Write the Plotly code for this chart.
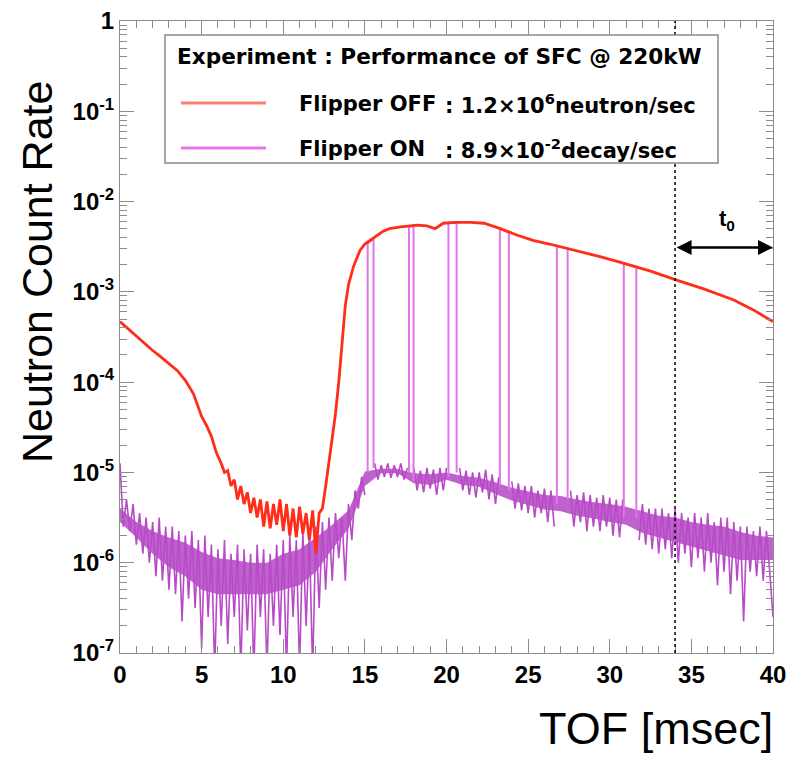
import plotly.graph_objects as go

# ---------------- data ----------------
# Flipper OFF : TOF [msec] and log10(neutron count rate)
off_tof = [0.0, 0.5, 1.0, 1.5, 2.0, 2.5, 3.0, 3.5, 4.0, 4.5, 5.0, 5.3, 5.6, 5.9,
           6.2, 6.4, 6.6, 6.8, 7.0, 7.2, 7.4, 7.6, 7.8, 8.0, 8.2, 8.4, 8.6, 8.8,
           9.0, 9.2, 9.4, 9.6, 9.8, 10.0, 10.2, 10.4, 10.6, 10.8, 11.0, 11.2,
           11.4, 11.6, 11.8, 12.0, 12.2, 12.4, 12.6, 12.8, 13.0, 13.2, 13.4,
           13.6, 13.8, 14.0, 14.3, 14.7, 15.0, 15.4, 16.1, 16.5, 17.2, 18.2,
           18.8, 19.3, 19.8, 20.6, 21.5, 22.3, 23.3, 24.3, 25.3, 26.3, 27.4,
           28.4, 29.4, 30.4, 31.4, 32.5, 34.1, 35.8, 37.6, 38.8, 40.0]
off_log = [-3.33, -3.41, -3.50, -3.58, -3.65, -3.72, -3.79, -3.87, -3.98, -4.13,
           -4.38, -4.48, -4.60, -4.78, -4.90, -5.00, -4.98, -5.15, -5.08, -5.30,
           -5.15, -5.35, -5.22, -5.45, -5.28, -5.50, -5.30, -5.60, -5.32, -5.62,
           -5.35, -5.58, -5.30, -5.65, -5.35, -5.70, -5.40, -5.72, -5.38, -5.68,
           -5.45, -5.75, -5.42, -5.90, -5.45, -5.40, -5.15, -4.90, -4.65, -4.35,
           -4.00, -3.55, -3.15, -2.92, -2.72, -2.54, -2.47, -2.42, -2.33, -2.30,
           -2.28, -2.26, -2.27, -2.30, -2.24, -2.23, -2.23, -2.24, -2.30, -2.37,
           -2.43, -2.47, -2.52, -2.56, -2.61, -2.66, -2.71, -2.77, -2.87, -2.97,
           -3.09, -3.20, -3.33]

# Flipper ON baseline : log10(rate) sampled every 0.2 msec from 0 to 40
on_step = 0.2
on_log = [-4.90, -5.60, -5.30, -5.65, -5.35, -5.80, -5.45, -5.90, -5.50, -6.00,
          -5.55, -6.15, -5.50, -6.20, -5.60, -6.30, -5.60, -6.35, -5.65, -6.65,
          -5.70, -6.40, -5.65, -6.50, -5.75, -6.95, -5.70, -6.60, -5.80, -7.20,
          -5.85, -6.70, -5.75, -6.90, -5.90, -6.60, -5.80, -7.20, -5.85, -6.75,
          -5.90, -7.20, -5.80, -6.60, -5.85, -7.20, -5.90, -6.70, -5.80, -6.80,
          -5.75, -7.20, -5.70, -6.60, -5.75, -7.20, -5.65, -6.70, -5.70, -7.20,
          -5.60, -6.50, -5.55, -6.30, -5.50, -6.20, -5.45, -5.95, -5.50, -6.20,
          -5.35, -5.75, -5.20, -5.40, -5.05, -5.25, -4.95, -5.05, -4.90, -5.08,
          -4.92, -5.05, -4.90, -5.06, -4.92, -5.05, -4.90, -5.08, -4.95, -5.15,
          -4.95, -5.20, -4.98, -5.22, -4.95, -5.18, -4.97, -5.25, -4.95, -5.20,
          -4.95, -5.15, -4.93, -5.10, -4.95, -5.20, -4.98, -5.25, -5.00, -5.28,
          -5.00, -5.22, -4.97, -5.30, -5.02, -5.35, -5.05, -5.30, -5.05, -5.30,
          -5.10, -5.40, -5.12, -5.42, -5.15, -5.45, -5.15, -5.50, -5.20, -5.45,
          -5.18, -5.55, -5.20, -5.60, -5.20, -5.50, -5.20, -5.55, -5.20, -5.60,
          -5.25, -5.55, -5.22, -5.65, -5.25, -5.60, -5.28, -5.65, -5.25, -5.60,
          -5.28, -5.70, -5.30, -5.72, -5.30, -5.65, -5.30, -5.70, -5.30, -5.75,
          -5.35, -5.80, -5.40, -5.85, -5.40, -5.90, -5.40, -5.85, -5.45, -5.95,
          -5.40, -6.00, -5.45, -5.90, -5.50, -6.05, -5.45, -5.95, -5.50, -6.10,
          -5.45, -6.00, -5.55, -6.25, -5.50, -6.10, -5.50, -6.35, -5.55, -6.20,
          -5.60, -6.65, -5.60, -6.10, -5.65, -6.15, -5.60, -6.20, -5.65, -6.10,
          -6.60]
on_tof = [round(i * on_step, 1) for i in range(len(on_log))]

# Flipper ON dense core of the noise band : upper / lower log10 edge every 1 msec
band_tof = list(range(0, 41))
band_upper = [-5.40, -5.55, -5.65, -5.72, -5.78, -5.88, -5.95, -5.97, -6.00, -6.00,
              -5.90, -5.85, -5.72, -5.58, -5.42, -4.99, -4.96, -4.96, -5.01, -5.02,
              -5.00, -5.04, -5.06, -5.11, -5.17, -5.21, -5.25, -5.26, -5.30, -5.33,
              -5.35, -5.38, -5.43, -5.48, -5.50, -5.55, -5.58, -5.60, -5.66, -5.70,
              -5.72]
band_lower = [-5.55, -5.72, -5.90, -6.05, -6.15, -6.30, -6.35, -6.35, -6.35, -6.35,
              -6.30, -6.25, -6.10, -5.85, -5.62, -5.15, -5.01, -5.01, -5.12, -5.14,
              -5.08, -5.14, -5.16, -5.24, -5.31, -5.36, -5.41, -5.43, -5.48, -5.51,
              -5.55, -5.58, -5.67, -5.72, -5.77, -5.82, -5.87, -5.92, -5.97, -5.97,
              -5.97]

# Flipper ON pulses (open gate): start/end TOF, and log10 rate at bottom / top
pulse_start = [15.17, 17.70, 20.12, 23.27, 26.76, 30.86]
pulse_end = [15.53, 17.98, 20.62, 23.82, 27.42, 31.63]
pulse_base_start = [-5.00, -5.00, -5.05, -5.15, -5.35, -5.50]
pulse_top_start = [-2.46, -2.28, -2.235, -2.30, -2.49, -2.69]
pulse_top_end = [-2.41, -2.27, -2.23, -2.34, -2.52, -2.72]
pulse_base_end = [-4.95, -5.10, -5.00, -5.20, -5.30, -5.50]

t0_start = 34.0
t0_end = 40.0
t0_arrow_log = -2.51

y_tick_vals = [1e-7, 1e-6, 1e-5, 1e-4, 1e-3, 1e-2, 1e-1, 1]
y_tick_text = ["10<sup>-7</sup>", "10<sup>-6</sup>", "10<sup>-5</sup>",
               "10<sup>-4</sup>", "10<sup>-3</sup>", "10<sup>-2</sup>",
               "10<sup>-1</sup>", "1"]
x_tick_vals = [0, 5, 10, 15, 20, 25, 30, 35, 40]

legend_title = "Experiment : Performance of SFC @ 220kW"
legend_names = ["Flipper OFF", "Flipper ON"]
legend_values = [": 1.2×10<sup>6</sup>neutron/sec", ": 8.9×10<sup>-2</sup>decay/sec"]

# ---------------- build ----------------
RED = "rgb(255,45,25)"
MAG = "rgb(184,74,200)"
MAG_PULSE = "rgb(224,116,232)"

off_y = [10 ** v for v in off_log]

on_x, on_y = [], []
for x, v in zip(on_tof, on_log):
    inside = any(s <= x <= e for s, e in zip(pulse_start, pulse_end))
    on_x.append(x)
    on_y.append(None if inside else 10 ** v)

px, py = [], []
for s, e, b0, t0, t1, b1 in zip(pulse_start, pulse_end, pulse_base_start,
                                pulse_top_start, pulse_top_end, pulse_base_end):
    px += [s, s, e, e, None]
    py += [10 ** b0, 10 ** t0, 10 ** t1, 10 ** b1, None]

band_x = band_tof + band_tof[::-1]
band_y = [10 ** v for v in band_upper] + [10 ** v for v in band_lower[::-1]]

fig = go.Figure()
fig.add_trace(go.Scatter(x=band_x, y=band_y, mode="lines", fill="toself",
                         fillcolor="rgba(180,70,196,0.85)", line=dict(width=0),
                         name="Flipper ON band", showlegend=False, hoverinfo="skip"))
fig.add_trace(go.Scatter(x=on_x, y=on_y, mode="lines", name="Flipper ON",
                         line=dict(color=MAG, width=1.6), connectgaps=False,
                         showlegend=False))
fig.add_trace(go.Scatter(x=px, y=py, mode="lines", name="Flipper ON gate",
                         line=dict(color=MAG_PULSE, width=2), connectgaps=False,
                         showlegend=False))
fig.add_trace(go.Scatter(x=off_tof, y=off_y, mode="lines", name="Flipper OFF",
                         line=dict(color=RED, width=2.8), showlegend=False))

minor_y = [m * 10 ** k for k in range(-7, 0) for m in range(2, 10)]

AX = "#8c8c8c"
TF = dict(family="Liberation Sans", size=24, color="black", weight="bold")
fig.update_xaxes(range=[0, 40], tickvals=x_tick_vals, ticks="inside", ticklen=14,
                 tickcolor=AX, showline=True, linecolor=AX, linewidth=1,
                 mirror="allticks", showgrid=False, zeroline=False, automargin=False,
                 tickfont=TF,
                 minor=dict(dtick=1, ticks="inside", ticklen=7, tickcolor=AX,
                            showgrid=False))
fig.update_yaxes(type="log", range=[-7, 0], tickvals=y_tick_vals, ticktext=y_tick_text,
                 ticks="inside", ticklen=14, tickcolor=AX, showline=True,
                 linecolor=AX, linewidth=1, mirror="allticks", showgrid=False,
                 zeroline=False, automargin=False, tickfont=TF,
                 minor=dict(tickvals=minor_y, ticks="inside", ticklen=7,
                            tickcolor=AX, showgrid=False))

W, H = 791, 758
L, R, T, B = 120, 18, 21, 105
pw, ph = W - L - R, H - T - B


def pxx(v):
    return (v - L) / pw


def pxy(v):
    return (H - B - v) / ph


shapes = [
    dict(type="line", xref="x", yref="y domain", x0=t0_start, x1=t0_start, y0=0, y1=1,
         line=dict(color="black", width=1.5, dash="dot")),
    dict(type="rect", xref="paper", yref="paper", x0=pxx(165), x1=pxx(718),
         y0=pxy(163), y1=pxy(35), line=dict(color="#8a8a8a", width=1.5),
         fillcolor="white", layer="above"),
    dict(type="line", xref="paper", yref="paper", x0=pxx(181), x1=pxx(266),
         y0=pxy(103), y1=pxy(103), line=dict(color="rgb(255,128,112)", width=3),
         layer="above"),
    dict(type="line", xref="paper", yref="paper", x0=pxx(181), x1=pxx(266),
         y0=pxy(148), y1=pxy(148), line=dict(color="rgb(232,118,232)", width=3),
         layer="above"),
]

LF = dict(family="DejaVu Sans", size=21, color="black", weight="bold")
LFT = dict(family="DejaVu Sans", size=21.6, color="black", weight="bold")
annotations = [
    dict(xref="paper", yref="paper", x=pxx(175), y=pxy(57), text=legend_title,
         showarrow=False, xanchor="left", yanchor="middle", font=LFT),
    dict(xref="paper", yref="paper", x=pxx(297), y=pxy(104), text=legend_names[0],
         showarrow=False, xanchor="left", yanchor="middle", font=LF),
    dict(xref="paper", yref="paper", x=pxx(443), y=pxy(104), text=legend_values[0],
         showarrow=False, xanchor="left", yanchor="middle", font=LF),
    dict(xref="paper", yref="paper", x=pxx(297), y=pxy(149), text=legend_names[1],
         showarrow=False, xanchor="left", yanchor="middle", font=LF),
    dict(xref="paper", yref="paper", x=pxx(443), y=pxy(149), text=legend_values[1],
         showarrow=False, xanchor="left", yanchor="middle", font=LF),
    # t0 arrow
    dict(xref="x", yref="y", axref="x", ayref="y", x=t0_end, y=t0_arrow_log,
         ax=t0_start, ay=t0_arrow_log, text="", showarrow=True, arrowhead=2,
         arrowside="end+start", arrowsize=1.2, arrowwidth=2.5, arrowcolor="black",
         standoff=0, startstandoff=0),
    dict(xref="x", yref="y", x=37.2, y=-2.2, text="t<sub>0</sub>", showarrow=False,
         font=dict(family="Liberation Sans", size=22, color="black", weight="bold")),
    # axis titles
    dict(xref="paper", yref="paper", x=pxx(37), y=pxy(272), text="Neutron Count Rate",
         textangle=-90, showarrow=False, xanchor="center", yanchor="middle",
         font=dict(family="Liberation Sans", size=43, color="black")),
    dict(xref="paper", yref="paper", x=pxx(775), y=pxy(728), text="TOF [msec]",
         showarrow=False, xanchor="right", yanchor="middle",
         font=dict(family="Liberation Sans", size=45, color="black")),
]

fig.update_layout(width=W, height=H, margin=dict(l=L, r=R, t=T, b=B),
                  paper_bgcolor="white", plot_bgcolor="white",
                  shapes=shapes, annotations=annotations, showlegend=False)

fig.write_html("out.html")
